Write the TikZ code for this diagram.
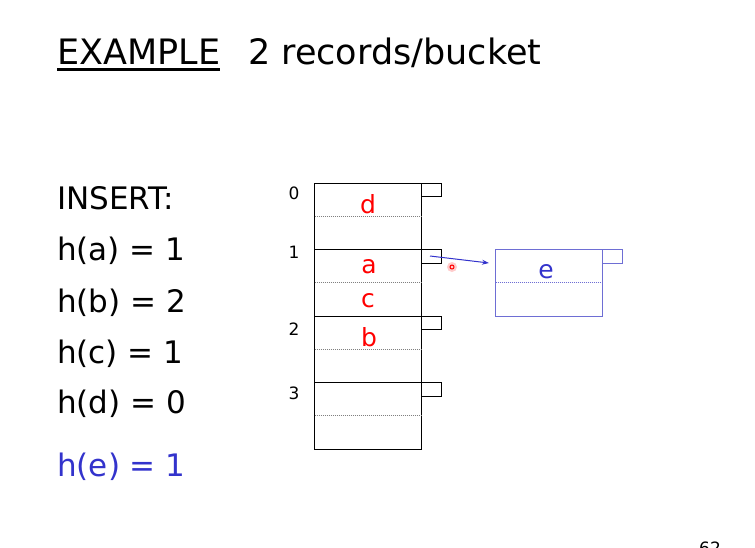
\documentclass[tikz,border=0pt]{standalone}
\usepackage{fontspec}
\setmainfont{DejaVu Sans}
\usetikzlibrary{math,arrows.meta}
\definecolor{recred}{RGB}{255,0,0}
\definecolor{insblue}{RGB}{51,51,204}
\definecolor{ovfblue}{RGB}{110,110,212}

\begin{document}
\begin{tikzpicture}[x=1pt,y=-1pt,
    lbl/.style={anchor=base west,inner sep=0pt,font=\fontsize{31}{31}\selectfont},
    rec/.style={anchor=base,inner sep=0pt,text=recred,font=\fontsize{25}{25}\selectfont},
    bnum/.style={anchor=center,inner sep=0pt,font=\fontsize{17}{17}\selectfont},
    slot/.style={gray,densely dotted,line width=1pt}]
  \useasboundingbox (0,0) rectangle (755,547);
  \tikzmath{\l = 314.5; \r = 421.5; \t = 183; \h = 66.5; \p = 20; \q = 13.5;}
  % title
  \node[anchor=base west,inner sep=0pt,font=\fontsize{35}{35}\selectfont] (ex) at (57,64) {EXAMPLE};
  \node[anchor=base west,inner sep=0pt,font=\fontsize{35}{35}\selectfont] (rb) at (248,64) {2 records/bucket};
  \draw[line width=3pt] ([yshift=-5pt]ex.south west) -- ([yshift=-5pt]ex.south east);
  % inserts
  \node[lbl] (ins) at (57,209) {INSERT:};
  \node[lbl] (ha) at (57,260) {h(a) = 1};
  \node[lbl] (hb) at (57,312) {h(b) = 2};
  \node[lbl] (hc) at (57,363) {h(c) = 1};
  \node[lbl] (hd) at (57,413) {h(d) = 0};
  \node[lbl,text=insblue] (he) at (57,476) {h(e) = 1};
  % buckets
  \foreach \i/\ny in {0/193,1/252,2/329,3/393} {
    \draw[line width=1pt] (\l,\t+\i*\h) rectangle (\r,\t+\i*\h+\h);
    \draw[slot] (\l,\t+\i*\h+\h/2) -- (\r,\t+\i*\h+\h/2);
    \draw[line width=1pt] (\r,\t+\i*\h) rectangle (\r+\p,\t+\i*\h+\q);
    \node[bnum] (n\i) at (294,\ny) {\i};
  }
  \node[rec] (d) at (368,213) {d};
  \node[rec] (a) at (369,273) {a};
  \node[rec] (c) at (368,307) {c};
  \node[rec] (b) at (369,346) {b};
  % overflow block
  \draw[ovfblue,line width=1pt] (495.5,\t+\h) rectangle (602,\t+2*\h);
  \draw[ovfblue,densely dotted,line width=1pt] (495.5,\t+1.5*\h) -- (602,\t+1.5*\h);
  \draw[ovfblue,line width=1pt] (602,\t+\h) rectangle (602+\p,\t+\h+\q);
  \node[rec,text=insblue] (e) at (546,278) {e};
  \coordinate (p1) at (430,256);
  \coordinate (ovf) at (489,263);
  \draw[insblue,line width=1pt,-{Stealth[length=7pt,width=5pt]}] (p1) -- (ovf);
  % pointer dot
  \fill[red!20] (452,267) circle (5);
  \draw[red,line width=1pt] (452,267) circle (2);
  % page number
  \node[anchor=north,inner sep=0pt,font=\fontsize{17}{17}\selectfont] (pg) at (710,542) {62};
\end{tikzpicture}
\end{document}
